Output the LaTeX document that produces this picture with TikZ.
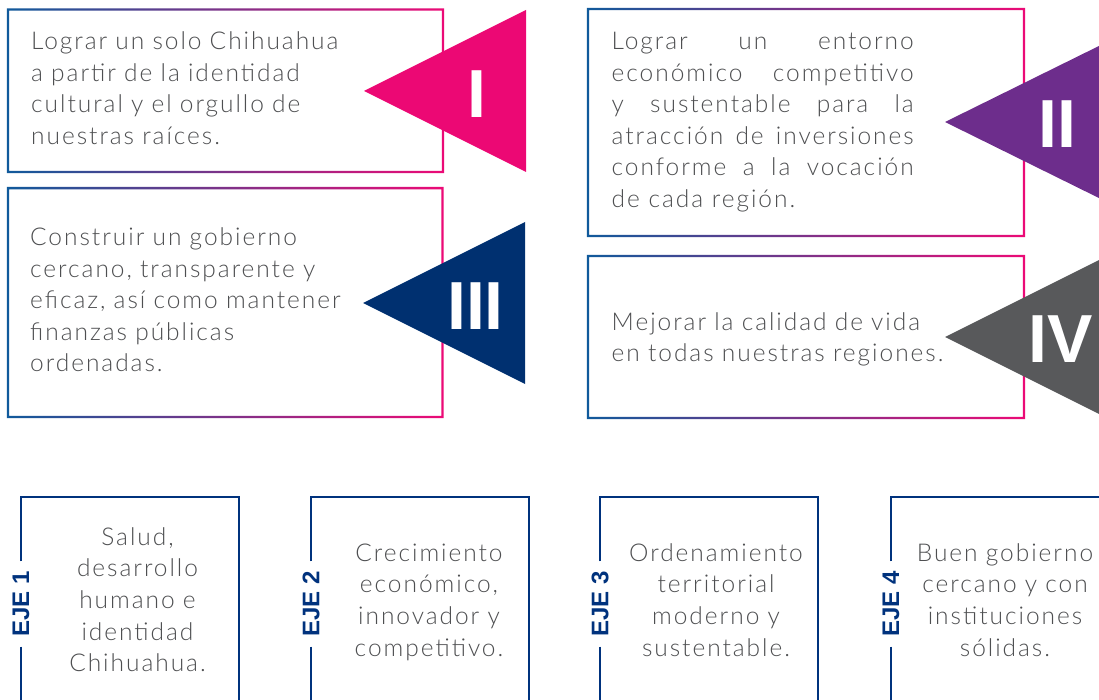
\documentclass[tikz,border=0pt]{standalone}
\usepackage{fontspec}
\IfFontExistsTF{Lato Light}{\setmainfont{Lato Light}[LetterSpace=8]}{\setmainfont{Lato}[LetterSpace=8]}
\newfontfamily\numfont{Liberation Sans}
\usetikzlibrary{positioning}

\definecolor{gradBlue}{RGB}{16,90,155}
\definecolor{gradPurple}{RGB}{110,50,150}
\definecolor{gradPink}{RGB}{236,10,118}
\definecolor{triPink}{RGB}{236,8,116}
\definecolor{triPurple}{RGB}{109,45,140}
\definecolor{triNavy}{RGB}{0,48,112}
\definecolor{triGray}{RGB}{88,89,91}
\definecolor{ejeBlue}{RGB}{0,50,125}
\definecolor{textGray}{RGB}{78,79,81}

\tikzset{
  gradframe/.style={left color=gradBlue, middle color=gradPurple, right color=gradPink, even odd rule},
  boxtext/.style={anchor=base west, inner sep=0pt, text width=#1, align=left, text=textGray,
    font=\fontsize{24.5}{31.5}\selectfont},
  numeral/.style={inner sep=0pt, text=white, font=\numfont\bfseries\fontsize{68}{68}\selectfont},
  ejeline/.style={ejeBlue, line width=2.5pt},
  ejelabel/.style={rotate=90, inner xsep=10pt, inner ysep=0pt, outer sep=0pt, text=ejeBlue,
    font=\numfont\bfseries\fontsize{24}{24}\selectfont},
  ejetext/.style={anchor=base, inner sep=0pt, text width=215pt, align=center, text=textGray,
    font=\fontsize{24.5}{31.7}\selectfont}
}

\begin{document}
\begin{tikzpicture}[x=1pt,y=-1pt]

	\useasboundingbox (0,0) rectangle (1099,700);
	\clip (0,0) rectangle (1099,700);

	% frames of the four aims
	\shade[gradframe] (6.8,8.3) rectangle (444.2,173.2) (9.2,10.7) rectangle (441.8,170.8);
	\shade[gradframe] (586.8,7.8) rectangle (1025.2,237.2) (589.2,10.2) rectangle (1022.8,234.8);
	\shade[gradframe] (6.8,187) rectangle (443.7,418.2) (9.2,189.4) rectangle (441.3,415.8);
	\shade[gradframe] (586.8,254.8) rectangle (1025.2,419.2) (589.2,257.2) rectangle (1022.8,416.8);

	\node[boxtext=340pt] (t1) at (31,50) {Lograr un solo Chihuahua\\ a partir de la identidad\\ cultural y el orgullo de\\ nuestras raíces.};
	\node[boxtext=302pt, align=justify] (t2) at (611.5,50) {Lograr un entorno\linebreak económico competitivo\linebreak y sustentable para la\linebreak atracción de inversiones\linebreak conforme a la vocación\linebreak de cada región.};
	\node[boxtext=340pt] (t3) at (30,246) {Construir un gobierno\\ cercano, transparente y\\ eficaz, así como mantener\\ finanzas públicas\\ ordenadas.};
	\node[boxtext=360pt] (t4) at (611.5,330) {Mejorar la calidad de vida\\ en todas nuestras regiones.};

	% triangles
	\fill[triPink] (364,91) -- (526,10) -- (526,172) -- cycle;
	\fill[triPurple] (945,122) -- (1107,42) -- (1107,202) -- cycle;
	\fill[triNavy] (363,303) -- (525,222) -- (525,384) -- cycle;
	\fill[triGray] (945,337) -- (1107,256) -- (1107,418) -- cycle;

	\node[numeral] (n1) at (477,94) {I};
	\node[numeral] (n2) at (1057,124) {II};
	\node[numeral] (n3) at (475.5,306) {III};
	\node[numeral] (n4) at (1060.5,339.5) {IV};

	% ejes
	\node[ejelabel] (e1) at (21,604) {EJE 1};
	\draw[ejeline] (e1.east) -- (21,497) -- (239,497) -- (239,710);
	\draw[ejeline] (e1.west) -- (21,710);
	\node[ejelabel] (e2) at (311,604) {EJE 2};
	\draw[ejeline] (e2.east) -- (311,497) -- (529,497) -- (529,710);
	\draw[ejeline] (e2.west) -- (311,710);
	\node[ejelabel] (e3) at (600,604) {EJE 3};
	\draw[ejeline] (e3.east) -- (600,497) -- (818,497) -- (818,710);
	\draw[ejeline] (e3.west) -- (600,710);
	\node[ejelabel] (e4) at (891,604) {EJE 4};
	\draw[ejeline] (e4.east) -- (891,497) -- (1109,497) -- (1109,710);
	\draw[ejeline] (e4.west) -- (891,710);

	\node[ejetext] (s1) at (137.5,545) {Salud,\\ desarrollo\\ humano e\\ identidad\\ Chihuahua.};
	\node[ejetext] (s2) at (429,561) {Crecimiento\\ económico,\\ innovador y\\ competitivo.};
	\node[ejetext] (s3) at (716,561) {Ordenamiento\\ territorial\\ moderno y\\ sustentable.};
	\node[ejetext] (s4) at (1005,561) {Buen gobierno\\ cercano y con\\ instituciones\\ sólidas.};

\end{tikzpicture}
\end{document}
